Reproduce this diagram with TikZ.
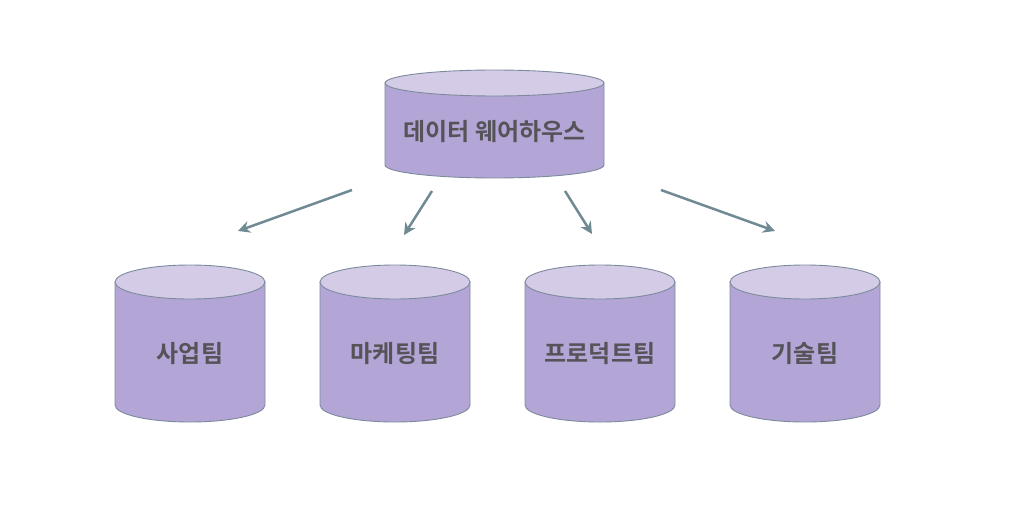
\documentclass[tikz,border=0pt]{standalone}
\usepackage{fontspec}
\newfontfamily\kr{Noto Sans CJK KR}[BoldFont={* Bold}]
\definecolor{bodyfill}{HTML}{B3A6D6}
\definecolor{topfill}{HTML}{D4CBE7}
\definecolor{edge}{HTML}{7C8A9C}
\definecolor{arrowc}{HTML}{708A94}
\definecolor{txt}{HTML}{555258}
\tikzset{
  cylbody/.style={fill=bodyfill,draw=edge,line width=0.9pt},
  cyltop/.style={fill=topfill,draw=edge,line width=0.9pt},
  lbl/.style={font=\kr\bfseries\fontsize{24}{28}\selectfont,text=txt},
  arr/.style={draw=arrowc,line width=2.5pt,-{Stealth[length=12pt,width=12pt,inset=4pt]}}
}
\usetikzlibrary{arrows.meta}
\newcommand{\mycyl}[8]{%
  % #1 name, #2 cx, #3 top cy, #4 bottom cy, #5 rx, #6 ry, #7 text, #8 text offset
  \path[cylbody] (#2-#5,#3) -- (#2-#5,#4) arc[start angle=180,end angle=360,x radius=#5,y radius=-#6] -- (#2+#5,#3) -- cycle;
  \path[cyltop] (#2,#3) ellipse[x radius=#5,y radius=#6];
  \node[lbl] (#1) at (#2,{(#3+#4)/2+#8}) {#7};
}
\begin{document}
\begin{tikzpicture}[x=1pt,y=-1pt]
\useasboundingbox (0,0) rectangle (1024,506);
\mycyl{dw}{494.5}{83}{165}{109.5}{13}{데이터 웨어하우스}{8}
\mycyl{biz}{190}{282}{405}{75}{17}{사업팀}{10}
\mycyl{mkt}{395}{282}{405}{75}{17}{마케팅팀}{10}
\mycyl{prd}{600}{282}{405}{75}{17}{프로덕트팀}{10}
\mycyl{tech}{805}{282}{405}{75}{17}{기술팀}{10}
\coordinate (s1) at (352,190); \coordinate (e1) at (238,231);
\coordinate (s2) at (432,191); \coordinate (e2) at (404,235);
\coordinate (s3) at (565,191); \coordinate (e3) at (592,234);
\coordinate (s4) at (661,190); \coordinate (e4) at (775,231);
\draw[arr] (s1) -- (e1);
\draw[arr] (s2) -- (e2);
\draw[arr] (s3) -- (e3);
\draw[arr] (s4) -- (e4);
\end{tikzpicture}
\end{document}
